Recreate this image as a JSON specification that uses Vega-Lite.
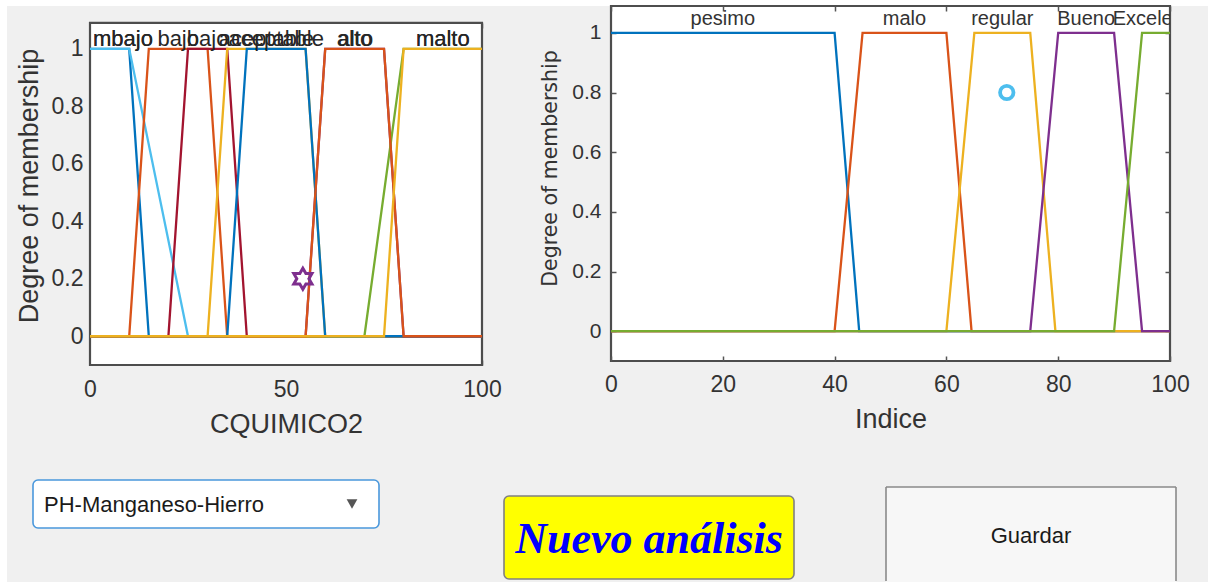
{
  "$schema": "https://vega.github.io/schema/vega-lite/v6.json",
  "padding": 0,
  "background": "#f0f0f0",
  "bounds": "flush",
  "spacing": 129,
  "resolve": {"scale": {"color": "independent"}},
  "config": {"font": "Liberation Sans", "view": {"stroke": null}},
  "datasets": {
    "leftMF": [
      {"mf": "mbajo", "x": 0, "y": 1}, {"mf": "mbajo", "x": 10, "y": 1}, {"mf": "mbajo", "x": 15, "y": 0}, {"mf": "mbajo", "x": 100, "y": 0},
      {"mf": "mbajo2", "x": 0, "y": 1}, {"mf": "mbajo2", "x": 10, "y": 1}, {"mf": "mbajo2", "x": 25, "y": 0}, {"mf": "mbajo2", "x": 100, "y": 0},
      {"mf": "bajo", "x": 0, "y": 0}, {"mf": "bajo", "x": 10, "y": 0}, {"mf": "bajo", "x": 15, "y": 1}, {"mf": "bajo", "x": 30, "y": 1}, {"mf": "bajo", "x": 35, "y": 0}, {"mf": "bajo", "x": 100, "y": 0},
      {"mf": "bajo2", "x": 0, "y": 0}, {"mf": "bajo2", "x": 20, "y": 0}, {"mf": "bajo2", "x": 25, "y": 1}, {"mf": "bajo2", "x": 35, "y": 1}, {"mf": "bajo2", "x": 40, "y": 0}, {"mf": "bajo2", "x": 100, "y": 0},
      {"mf": "aceptable", "x": 0, "y": 0}, {"mf": "aceptable", "x": 30, "y": 0}, {"mf": "aceptable", "x": 35, "y": 1}, {"mf": "aceptable", "x": 55, "y": 1}, {"mf": "aceptable", "x": 60, "y": 0}, {"mf": "aceptable", "x": 100, "y": 0},
      {"mf": "alto2", "x": 0, "y": 0}, {"mf": "alto2", "x": 55, "y": 0}, {"mf": "alto2", "x": 60, "y": 1}, {"mf": "alto2", "x": 75, "y": 1}, {"mf": "alto2", "x": 80, "y": 0}, {"mf": "alto2", "x": 100, "y": 0},
      {"mf": "malto2", "x": 0, "y": 0}, {"mf": "malto2", "x": 70, "y": 0}, {"mf": "malto2", "x": 80, "y": 1}, {"mf": "malto2", "x": 100, "y": 1},
      {"mf": "aceptable2", "x": 0, "y": 0}, {"mf": "aceptable2", "x": 35, "y": 0}, {"mf": "aceptable2", "x": 40, "y": 1}, {"mf": "aceptable2", "x": 55, "y": 1}, {"mf": "aceptable2", "x": 60, "y": 0}, {"mf": "aceptable2", "x": 100, "y": 0},
      {"mf": "alto", "x": 0, "y": 0}, {"mf": "alto", "x": 55, "y": 0}, {"mf": "alto", "x": 60, "y": 1}, {"mf": "alto", "x": 75, "y": 1}, {"mf": "alto", "x": 80, "y": 0}, {"mf": "alto", "x": 100, "y": 0},
      {"mf": "malto", "x": 0, "y": 0}, {"mf": "malto", "x": 75, "y": 0}, {"mf": "malto", "x": 80, "y": 1}, {"mf": "malto", "x": 100, "y": 1}
    ],
    "leftLabels": [
      {"label": "mbajo", "x": 8.4, "y": 1.035},
      {"label": "mbajo", "x": 8.4, "y": 1.035},
      {"label": "bajo", "x": 22.5, "y": 1.035},
      {"label": "bajo", "x": 30, "y": 1.035},
      {"label": "aceptable", "x": 45, "y": 1.035},
      {"label": "aceptable", "x": 47.5, "y": 1.035},
      {"label": "alto", "x": 67.5, "y": 1.035},
      {"label": "alto", "x": 67.7, "y": 1.035},
      {"label": "malto", "x": 90, "y": 1.035},
      {"label": "malto", "x": 90, "y": 1.035}
    ],
    "leftInput": [{"x": 54.3, "y": 0.2}],
    "rightMF": [
      {"mf": "pesimo", "x": 0, "y": 1}, {"mf": "pesimo", "x": 40, "y": 1}, {"mf": "pesimo", "x": 44.4, "y": 0}, {"mf": "pesimo", "x": 100, "y": 0},
      {"mf": "malo", "x": 0, "y": 0}, {"mf": "malo", "x": 40, "y": 0}, {"mf": "malo", "x": 45, "y": 1}, {"mf": "malo", "x": 60, "y": 1}, {"mf": "malo", "x": 64.5, "y": 0}, {"mf": "malo", "x": 100, "y": 0},
      {"mf": "regular", "x": 0, "y": 0}, {"mf": "regular", "x": 60, "y": 0}, {"mf": "regular", "x": 65, "y": 1}, {"mf": "regular", "x": 75, "y": 1}, {"mf": "regular", "x": 79.5, "y": 0}, {"mf": "regular", "x": 100, "y": 0},
      {"mf": "Bueno", "x": 0, "y": 0}, {"mf": "Bueno", "x": 75, "y": 0}, {"mf": "Bueno", "x": 80, "y": 1}, {"mf": "Bueno", "x": 90, "y": 1}, {"mf": "Bueno", "x": 95, "y": 0}, {"mf": "Bueno", "x": 100, "y": 0},
      {"mf": "Excelente", "x": 0, "y": 0}, {"mf": "Excelente", "x": 90, "y": 0}, {"mf": "Excelente", "x": 95, "y": 1}, {"mf": "Excelente", "x": 100, "y": 1}
    ],
    "rightLabels": [
      {"label": "pesimo", "x": 20, "y": 1.045},
      {"label": "malo", "x": 52.5, "y": 1.045},
      {"label": "regular", "x": 70, "y": 1.045},
      {"label": "Bueno", "x": 85, "y": 1.045},
      {"label": "Excelente", "x": 97.6, "y": 1.045}
    ],
    "rightOutput": [{"x": 70.8, "y": 0.8}],
    "widgets": [
      {"w": "strip", "x0": 0, "x1": 1208, "y0": 0, "y1": 6},
      {"w": "strip", "x0": 0, "x1": 7, "y0": 0, "y1": 582},
      {"w": "dropdown", "x0": 33, "x1": 379, "y0": 480, "y1": 528},
      {"w": "nuevo", "x0": 504, "x1": 794, "y0": 496, "y1": 579},
      {"w": "guardar", "x0": 886, "x1": 1176, "y0": 487, "y1": 582}
    ],
    "guardarEdges": [
      {"x0": 886, "x1": 1176, "y0": 487, "y1": 487},
      {"x0": 886, "x1": 886, "y0": 487, "y1": 581},
      {"x0": 1176, "x1": 1176, "y0": 487, "y1": 581}
    ],
    "uiText": [
      {"w": "dropdown", "label": "PH-Manganeso-Hierro", "x": 44, "y": 505},
      {"w": "nuevo", "label": "Nuevo análisis", "x": 649, "y": 540},
      {"w": "guardar", "label": "Guardar", "x": 1031, "y": 536},
      {"w": "arrow", "label": "", "x": 352, "y": 504}
    ]
  },
  "hconcat": [
    {
      "width": 392,
      "height": 359,
      "view": {"stroke": null, "fill": null},
      "resolve": {"scale": {"x": "independent", "y": "independent"}, "axis": {"x": "independent", "y": "independent"}},
      "layer": [
        {
          "resolve": {"axis": {"x": "independent", "y": "independent"}},
          "layer": [
            {
              "data": {"values": [{"box": "axes"}]},
              "mark": {"type": "rect", "fill": "white", "stroke": "#4d4d4d", "strokeWidth": 2.2},
              "encoding": {
                "x": {"datum": 0, "type": "quantitative", "scale": {"domain": [0, 100], "nice": false, "zero": false},
                  "axis": {"orient": "bottom", "values": [0, 50, 100], "title": "CQUIMICO2", "domain": false, "grid": false,
                    "tickSize": -5, "tickColor": "#555", "tickWidth": 1.5, "labelFontSize": 23, "labelPadding": 18, "labelColor": "#333",
                    "labelFlush": false, "labelOverlap": false, "titleFontSize": 27, "titleFontWeight": "normal", "titleColor": "#333", "titlePadding": 10}},
                "x2": {"datum": 100},
                "y": {"datum": -0.1, "type": "quantitative", "scale": {"domain": [-0.1, 1.149], "nice": false, "zero": false},
                  "axis": {"orient": "left", "values": [0, 0.2, 0.4, 0.6, 0.8, 1], "format": "~g", "title": "Degree of membership", "domain": false, "grid": false,
                    "tickSize": -5, "tickColor": "#555", "tickWidth": 1.5, "labelFontSize": 23, "labelPadding": 12, "labelColor": "#333",
                    "labelFlush": false, "labelOverlap": false, "titleFontSize": 27, "titleFontWeight": "normal", "titleColor": "#333", "titlePadding": 8}},
                "y2": {"datum": 1.09}
              }
            },
            {
              "data": {"name": "leftMF"},
              "mark": {"type": "line", "strokeWidth": 2.3},
              "encoding": {
                "x": {"field": "x", "type": "quantitative", "axis": null},
                "y": {"field": "y", "type": "quantitative", "axis": null},
                "color": {"field": "mf", "type": "nominal", "legend": null,
                  "scale": {"domain": ["mbajo", "mbajo2", "bajo", "bajo2", "aceptable", "alto2", "malto2", "aceptable2", "alto", "malto"],
                    "range": ["#0072BD", "#4DBEEE", "#D95319", "#A2142F", "#EDB120", "#7E2F8E", "#77AC30", "#0072BD", "#D95319", "#EDB120"]}}
              }
            },
            {
              "data": {"name": "leftLabels"},
              "mark": {"type": "text", "fontSize": 22, "color": "#262626", "baseline": "middle", "align": "center"},
              "encoding": {
                "x": {"field": "x", "type": "quantitative", "axis": null},
                "y": {"field": "y", "type": "quantitative", "axis": null},
                "text": {"field": "label"}
              }
            },
            {
              "data": {"name": "leftInput"},
              "mark": {"type": "point", "shape": "M0,-1L0.289,-0.5L0.866,-0.5L0.577,0L0.866,0.5L0.289,0.5L0,1L-0.289,0.5L-0.866,0.5L-0.577,0L-0.866,-0.5L-0.289,-0.5Z",
                "filled": false, "stroke": "#7E2F8E", "strokeWidth": 3, "size": 440, "opacity": 1},
              "encoding": {
                "x": {"field": "x", "type": "quantitative",
                  "axis": {"orient": "top", "values": [0, 50, 100], "labels": false, "title": null, "domain": false, "grid": false, "tickSize": -5, "tickColor": "#555", "tickWidth": 1.5, "offset": -17}},
                "y": {"field": "y", "type": "quantitative",
                  "axis": {"orient": "right", "values": [0, 0.2, 0.4, 0.6, 0.8, 1], "labels": false, "title": null, "domain": false, "grid": false, "tickSize": -5, "tickColor": "#555", "tickWidth": 1.5}}
              }
            }
          ]
        },
        {
          "layer": [
            {
              "data": {"name": "widgets"},
              "transform": [{"filter": "datum.w === 'strip'"}],
              "mark": {"type": "rect", "fill": "white"},
              "encoding": {
                "x": {"field": "x0", "type": "quantitative", "scale": {"domain": [90, 482], "nice": false, "zero": false}, "axis": null},
                "x2": {"field": "x1"},
                "y": {"field": "y0", "type": "quantitative", "scale": {"domain": [6, 365], "reverse": true, "nice": false, "zero": false}, "axis": null},
                "y2": {"field": "y1"}
              }
            },
            {
              "data": {"name": "widgets"},
              "transform": [{"filter": "datum.w === 'dropdown'"}],
              "mark": {"type": "rect", "fill": "white", "stroke": "#4a98dc", "strokeWidth": 1.6, "cornerRadius": 5},
              "encoding": {
                "x": {"field": "x0", "type": "quantitative", "axis": null}, "x2": {"field": "x1"},
                "y": {"field": "y0", "type": "quantitative", "axis": null}, "y2": {"field": "y1"}
              }
            },
            {
              "data": {"name": "widgets"},
              "transform": [{"filter": "datum.w === 'nuevo'"}],
              "mark": {"type": "rect", "fill": "#ffff00", "stroke": "#808080", "strokeWidth": 1.6, "cornerRadius": 5},
              "encoding": {
                "x": {"field": "x0", "type": "quantitative", "axis": null}, "x2": {"field": "x1"},
                "y": {"field": "y0", "type": "quantitative", "axis": null}, "y2": {"field": "y1"}
              }
            },
            {
              "data": {"name": "widgets"},
              "transform": [{"filter": "datum.w === 'guardar'"}],
              "mark": {"type": "rect", "fill": "#f7f7f7", "cornerRadiusTopLeft": 5, "cornerRadiusTopRight": 5},
              "encoding": {
                "x": {"field": "x0", "type": "quantitative", "axis": null}, "x2": {"field": "x1"},
                "y": {"field": "y0", "type": "quantitative", "axis": null}, "y2": {"field": "y1"}
              }
            },
            {
              "data": {"name": "guardarEdges"},
              "mark": {"type": "rule", "stroke": "#8a8a8a", "strokeWidth": 1.6},
              "encoding": {
                "x": {"field": "x0", "type": "quantitative", "axis": null}, "x2": {"field": "x1"},
                "y": {"field": "y0", "type": "quantitative", "axis": null}, "y2": {"field": "y1"}
              }
            },
            {
              "data": {"name": "uiText"},
              "transform": [{"filter": "datum.w === 'dropdown'"}],
              "mark": {"type": "text", "fontSize": 22, "color": "#1a1a1a", "align": "left", "baseline": "middle"},
              "encoding": {
                "x": {"field": "x", "type": "quantitative", "axis": null},
                "y": {"field": "y", "type": "quantitative", "axis": null},
                "text": {"field": "label"}
              }
            },
            {
              "data": {"name": "uiText"},
              "transform": [{"filter": "datum.w === 'arrow'"}],
              "mark": {"type": "point", "shape": "triangle-down", "filled": true, "color": "#555555", "size": 115, "opacity": 1},
              "encoding": {
                "x": {"field": "x", "type": "quantitative", "axis": null},
                "y": {"field": "y", "type": "quantitative", "axis": null}
              }
            },
            {
              "data": {"name": "uiText"},
              "transform": [{"filter": "datum.w === 'nuevo'"}],
              "mark": {"type": "text", "font": "Liberation Serif", "fontSize": 44, "fontStyle": "italic", "fontWeight": "bold", "color": "#0000ff", "align": "center", "baseline": "middle"},
              "encoding": {
                "x": {"field": "x", "type": "quantitative", "axis": null},
                "y": {"field": "y", "type": "quantitative", "axis": null},
                "text": {"field": "label"}
              }
            },
            {
              "data": {"name": "uiText"},
              "transform": [{"filter": "datum.w === 'guardar'"}],
              "mark": {"type": "text", "fontSize": 22, "color": "#1a1a1a", "align": "center", "baseline": "middle"},
              "encoding": {
                "x": {"field": "x", "type": "quantitative", "axis": null},
                "y": {"field": "y", "type": "quantitative", "axis": null},
                "text": {"field": "label"}
              }
            }
          ]
        }
      ]
    },
    {
      "width": 559,
      "height": 355,
      "view": {"fill": "white", "stroke": "#4d4d4d", "strokeWidth": 2.2},
      "resolve": {"axis": {"x": "independent", "y": "independent"}},
      "layer": [
        {
          "data": {"name": "rightMF"},
          "mark": {"type": "line", "strokeWidth": 2.3},
          "encoding": {
            "x": {"field": "x", "type": "quantitative", "scale": {"domain": [0, 100], "nice": false, "zero": false},
              "axis": {"orient": "bottom", "values": [0, 20, 40, 60, 80, 100], "title": "Indice", "domain": false, "grid": false,
                "tickSize": -5, "tickColor": "#555", "tickWidth": 1.5, "labelFontSize": 23, "labelPadding": 17, "labelColor": "#333",
                "labelFlush": false, "labelOverlap": false, "titleFontSize": 27, "titleFontWeight": "normal", "titleColor": "#333", "titlePadding": 10}},
            "y": {"field": "y", "type": "quantitative", "scale": {"domain": [-0.1, 1.09], "nice": false, "zero": false},
              "axis": {"orient": "left", "values": [0, 0.2, 0.4, 0.6, 0.8, 1], "format": "~g", "title": "Degree of membership", "domain": false, "grid": false,
                "tickSize": -5, "tickColor": "#555", "tickWidth": 1.5, "labelFontSize": 21, "labelPadding": 15, "labelColor": "#333",
                "labelFlush": false, "labelOverlap": false, "titleFontSize": 20.5, "titleFont": "DejaVu Sans", "titleFontWeight": "normal", "titleColor": "#333", "titlePadding": 11, "titleY": 162}},
            "color": {"field": "mf", "type": "nominal", "legend": null,
              "scale": {"domain": ["pesimo", "malo", "regular", "Bueno", "Excelente"],
                "range": ["#0072BD", "#D95319", "#EDB120", "#7E2F8E", "#77AC30"]}}
          }
        },
        {
          "data": {"name": "rightLabels"},
          "mark": {"type": "text", "fontSize": 20, "color": "#333", "baseline": "middle", "align": "center", "clip": true},
          "encoding": {
            "x": {"field": "x", "type": "quantitative", "axis": null},
            "y": {"field": "y", "type": "quantitative", "axis": null},
            "text": {"field": "label"}
          }
        },
        {
          "data": {"name": "rightOutput"},
          "mark": {"type": "point", "shape": "circle", "filled": false, "stroke": "#4DBEEE", "strokeWidth": 3.8, "size": 180, "opacity": 1},
          "encoding": {
            "x": {"field": "x", "type": "quantitative",
              "axis": {"orient": "top", "values": [0, 20, 40, 60, 80, 100], "labels": false, "title": null, "domain": false, "grid": false, "tickSize": -5, "tickColor": "#555", "tickWidth": 1.5}},
            "y": {"field": "y", "type": "quantitative",
              "axis": {"orient": "right", "values": [0, 0.2, 0.4, 0.6, 0.8, 1], "labels": false, "title": null, "domain": false, "grid": false, "tickSize": -5, "tickColor": "#555", "tickWidth": 1.5}}
          }
        }
      ]
    }
  ]
}
